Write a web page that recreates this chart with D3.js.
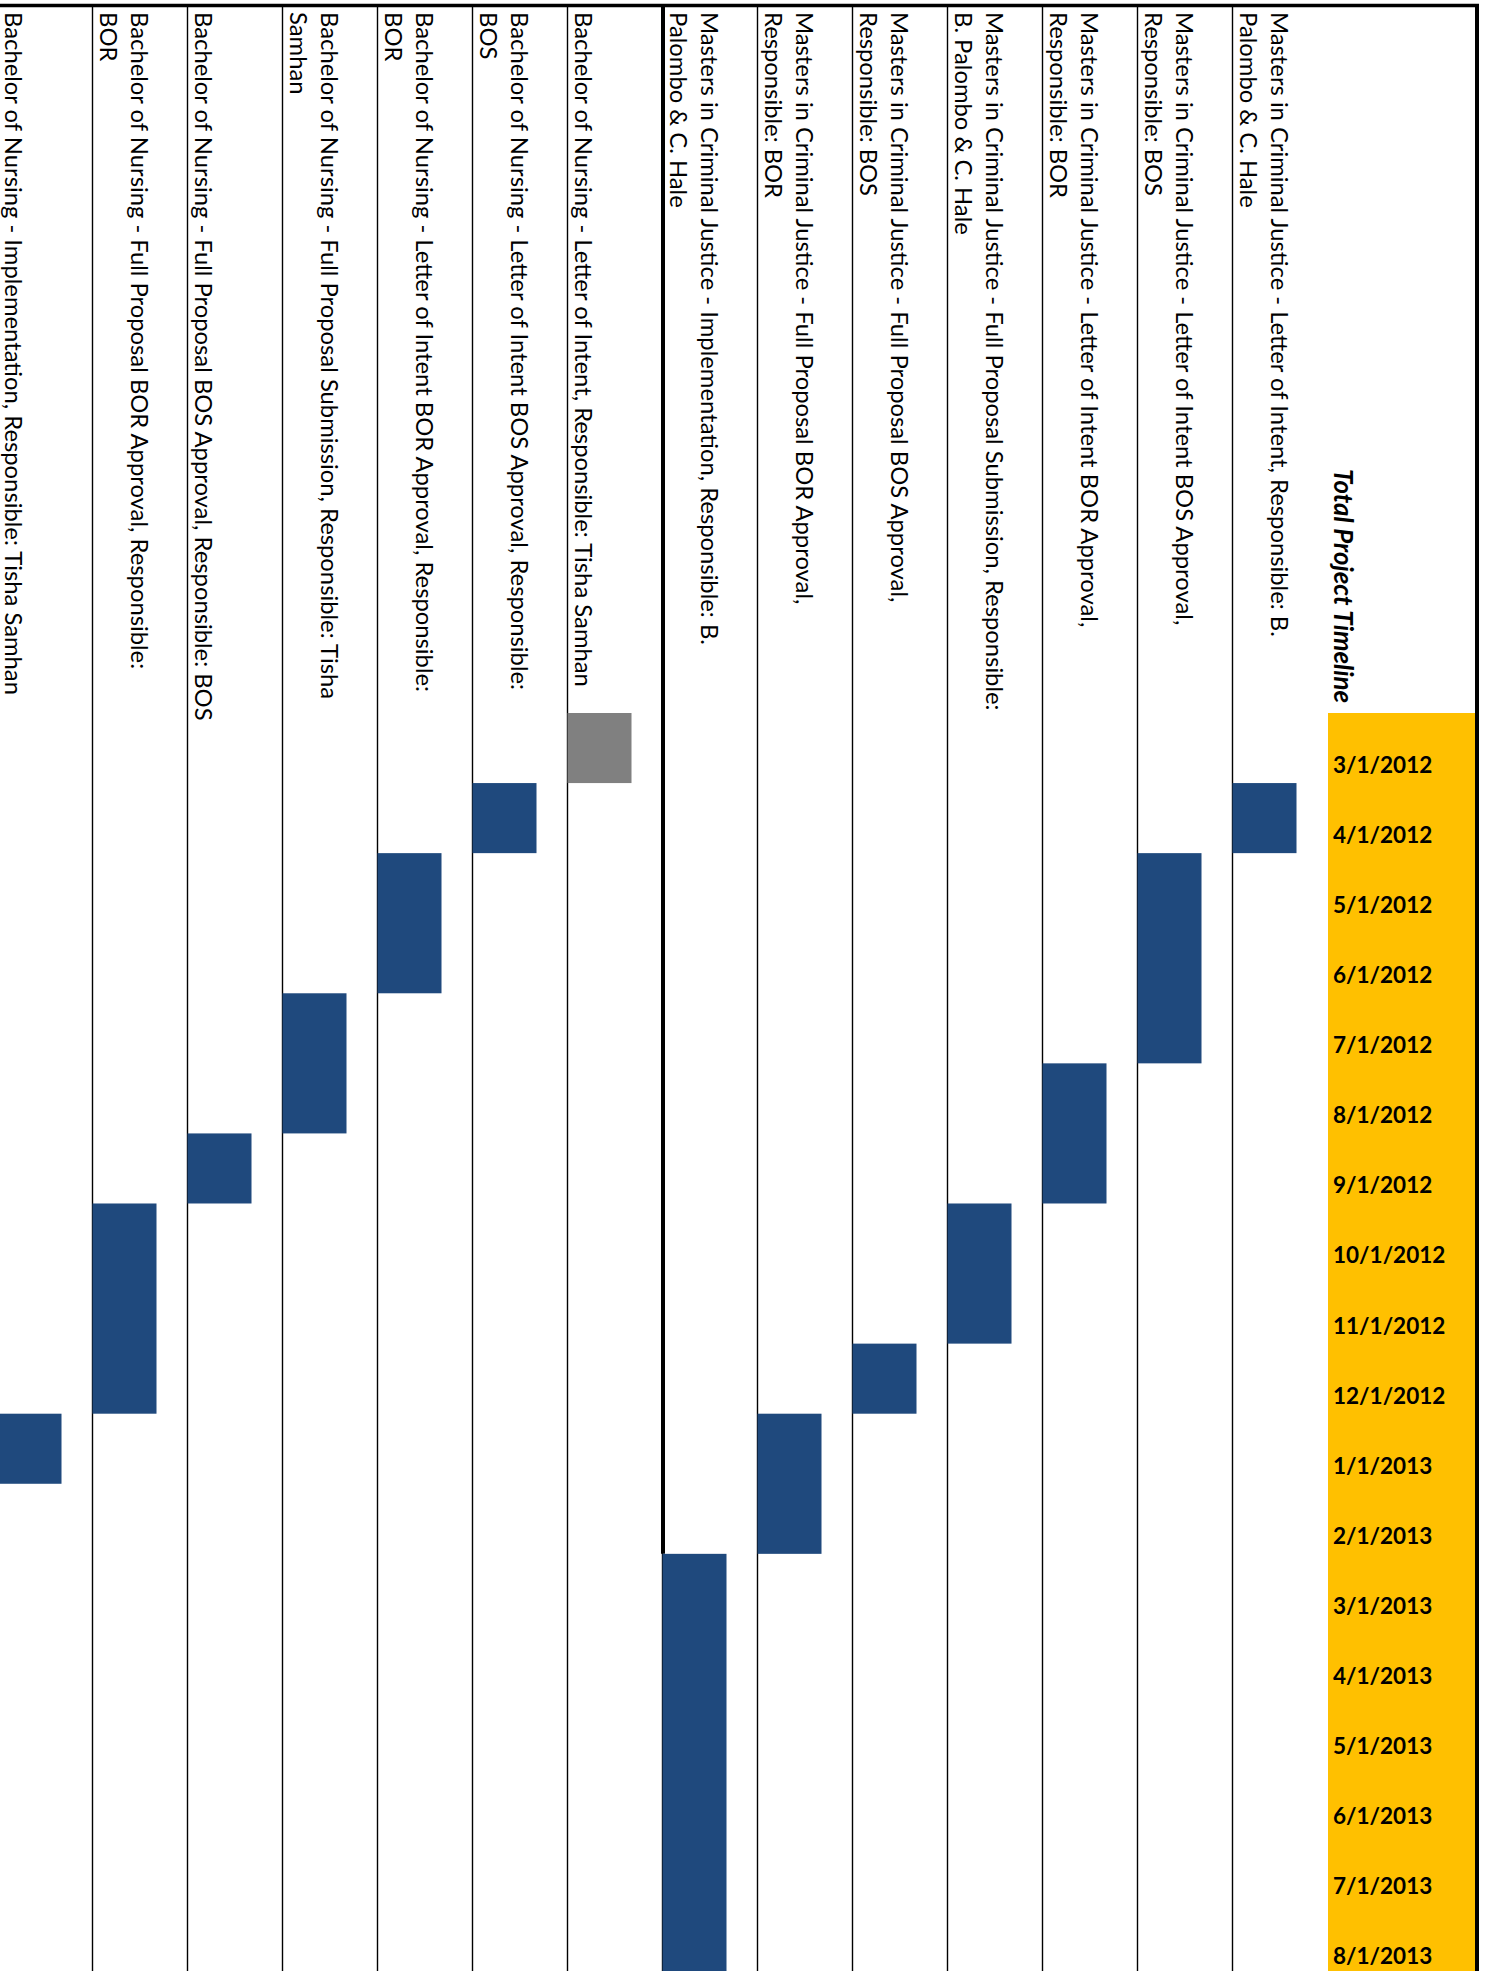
<!DOCTYPE html>
<html>
<head>
<meta charset="utf-8">
<script src="https://cdn.jsdelivr.net/npm/d3@7/dist/d3.min.js"></script>
<style>
  body { margin: 0; background: #fff; }
  svg { display: block; }
</style>
</head>
<body>
<script>
// tasks, left to right as they sit in the rotated sheet ('\n' = cell wrap)
const tasks = [
  'Bachelor of Nursing - Implementation, Responsible: Tisha Samhan',
  'Bachelor of Nursing - Full Proposal BOR Approval, Responsible:\nBOR',
  'Bachelor of Nursing - Full Proposal BOS Approval, Responsible: BOS',
  'Bachelor of Nursing - Full Proposal Submission, Responsible: Tisha\nSamhan',
  'Bachelor of Nursing - Letter of Intent BOR Approval, Responsible:\nBOR',
  'Bachelor of Nursing - Letter of Intent BOS Approval, Responsible:\nBOS',
  'Bachelor of Nursing - Letter of Intent, Responsible: Tisha Samhan',
  'Masters in Criminal Justice - Implementation, Responsible: B.\nPalombo & C. Hale',
  'Masters in Criminal Justice - Full Proposal BOR Approval,\nResponsible: BOR',
  'Masters in Criminal Justice - Full Proposal BOS Approval,\nResponsible: BOS',
  'Masters in Criminal Justice - Full Proposal Submission, Responsible:\nB. Palombo & C. Hale',
  'Masters in Criminal Justice - Letter of Intent BOR Approval,\nResponsible: BOR',
  'Masters in Criminal Justice - Letter of Intent BOS Approval,\nResponsible: BOS',
  'Masters in Criminal Justice - Letter of Intent, Responsible: B.\nPalombo & C. Hale'
]
const startMonths = ['1/1/2013', '10/1/2012', '9/1/2012', '7/1/2012', '5/1/2012', '4/1/2012', '3/1/2012',
  '3/1/2013', '1/1/2013', '12/1/2012', '10/1/2012', '8/1/2012', '5/1/2012', '4/1/2012']
const durations = [1, 3, 1, 2, 2, 1, 1, 6, 2, 1, 2, 2, 3, 1]
const status = ['planned', 'planned', 'planned', 'planned', 'planned', 'planned', 'done',
  'planned', 'planned', 'planned', 'planned', 'planned', 'planned', 'planned']

// month rows (tick labels)
const months = ['3/1/2012', '4/1/2012', '5/1/2012', '6/1/2012', '7/1/2012', '8/1/2012', '9/1/2012',
  '10/1/2012', '11/1/2012', '12/1/2012', '1/1/2013', '2/1/2013', '3/1/2013', '4/1/2013',
  '5/1/2013', '6/1/2013', '7/1/2013', '8/1/2013']
const title = 'Total Project Timeline'
const groupEnd = tasks[7]
const groupDividerUntil = '3/1/2013'

const width = 1486
const height = 1971
const rowTop = 713
const rowH = 70.07
const lineH = 31
const font = 'Lato, "Open Sans", sans-serif'

const svg = d3.select('body').append('svg')
  .attr('width', width)
  .attr('height', height)

// columns run left to right, months run top to bottom
const x = d3.scaleBand().domain(tasks).range([-3, 1327]).padding(0)
const y = d3.scaleBand().domain(months).range([rowTop, rowTop + months.length * rowH]).padding(0)
const color = d3.scaleOrdinal().domain(['planned', 'done']).range(['#1f497d', '#808080'])

const bars = tasks.map(function(t, i) {
  const s = months.indexOf(startMonths[i])
  return {task: t, start: startMonths[i], end: s + durations[i], status: status[i]}
})

// date header band
svg.append('rect')
  .attr('x', 1328)
  .attr('y', rowTop)
  .attr('width', 1475 - 1328)
  .attr('height', height - rowTop)
  .attr('fill', '#ffc000')

// column rules
svg.append('g')
  .selectAll('line')
  .data(tasks.slice(1))
  .join('line')
  .attr('x1', d => Math.round(x(d)) + 0.5)
  .attr('x2', d => Math.round(x(d)) + 0.5)
  .attr('y1', 4)
  .attr('y2', height)
  .attr('stroke', '#000')
  .attr('stroke-width', 1.4)

// thick divider between the two programmes
svg.append('line')
  .attr('x1', x(groupEnd) + 1)
  .attr('x2', x(groupEnd) + 1)
  .attr('y1', 4)
  .attr('y2', y(groupDividerUntil))
  .attr('stroke', '#000')
  .attr('stroke-width', 4)

// task labels, rotated, bottom aligned in the cell
const labels = svg.append('g')
  .attr('font-family', font)
  .attr('font-size', 23.8)
  .attr('fill', '#000')

tasks.forEach(function(t) {
  const lines = t.split('\n')
  lines.forEach(function(line, k) {
    const bx = x(t) + 8 + (lines.length - 1 - k) * lineH
    labels.append('text')
      .attr('transform', 'translate(' + bx + ',12) rotate(90)')
      .text(line)
  })
})

// bars
svg.append('g')
  .selectAll('rect')
  .data(bars)
  .join('rect')
  .attr('x', d => x(d.task) + 0.5)
  .attr('y', d => y(d.start))
  .attr('width', 64)
  .attr('height', d => rowTop + d.end * rowH - y(d.start))
  .attr('fill', d => color(d.status))

// title
svg.append('text')
  .attr('transform', 'translate(1334,703) rotate(90)')
  .attr('text-anchor', 'end')
  .attr('font-family', font)
  .attr('font-size', 25.8)
  .attr('font-weight', 'bold')
  .attr('font-style', 'italic')
  .text(title)

// month labels
svg.append('g')
  .selectAll('text')
  .data(months)
  .join('text')
  .attr('x', 1333)
  .attr('y', d => y(d) + 60)
  .attr('font-family', font)
  .attr('font-size', 22.5)
  .attr('font-weight', 'bold')
  .text(d => d)

// outer frame: top and right
svg.append('line')
  .attr('x1', 0).attr('x2', 1479)
  .attr('y1', 5.5).attr('y2', 5.5)
  .attr('stroke', '#000')
  .attr('stroke-width', 3.5)
svg.append('line')
  .attr('x1', 1477).attr('x2', 1477)
  .attr('y1', 4).attr('y2', height)
  .attr('stroke', '#000')
  .attr('stroke-width', 4)
</script>
</body>
</html>
